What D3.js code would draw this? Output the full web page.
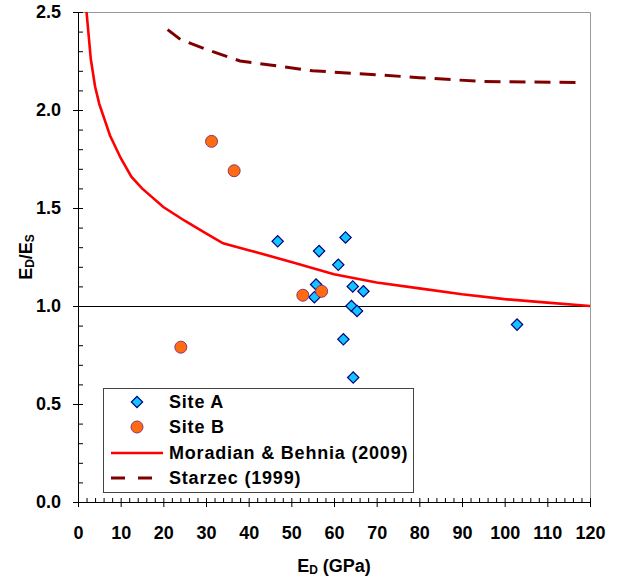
<!DOCTYPE html>
<html>
<head>
<meta charset="utf-8">
<script src="https://cdn.jsdelivr.net/npm/d3@7"></script>
<style>
  body { margin: 0; background: #fff; }
  text { font-family: "Liberation Sans", Arial, sans-serif; font-weight: bold; fill: #000; }
</style>
</head>
<body>
<div id="chart"></div>
<script>
// Site A (diamonds)
const siteA_ED = [46.8, 62.7, 56.5, 61.0, 55.8, 64.4, 66.9, 55.4, 64.1, 65.4, 62.2, 64.5, 102.9];
const siteA_ratio = [1.33, 1.35, 1.28, 1.21, 1.11, 1.10, 1.075, 1.045, 1.00, 0.975, 0.83, 0.635, 0.905];

// Site B (circles)
const siteB_ED = [31.3, 36.6, 52.7, 57.1, 24.1];
const siteB_ratio = [1.84, 1.69, 1.055, 1.075, 0.79];

// Moradian & Behnia (2009)
const mbED = [2, 3, 4, 5, 7.5, 10, 12.5, 15, 20, 25, 30, 34, 40, 50, 60, 70, 80, 90, 100, 110, 120];
const mbRatio = [2.5, 2.26, 2.12, 2.03, 1.87, 1.755, 1.66, 1.60, 1.505, 1.435, 1.37, 1.32, 1.285, 1.225, 1.162, 1.12, 1.09, 1.06, 1.035, 1.017, 1.0];

// Starzec (1999)
const stED = [21, 24, 30, 38, 45, 55, 70, 80, 95, 118];
const stRatio = [2.41, 2.36, 2.31, 2.25, 2.23, 2.20, 2.18, 2.165, 2.145, 2.14];

const xTicks = [0, 10, 20, 30, 40, 50, 60, 70, 80, 90, 100, 110, 120];
const yTicks = [0.0, 0.5, 1.0, 1.5, 2.0, 2.5];
const legendLabels = ["Site A", "Site B", "Moradian & Behnia (2009)", "Starzec (1999)"];

const width = 617, height = 579;
const margin = {top: 12, right: 27, bottom: 77, left: 78};
const w = width - margin.left - margin.right;
const h = height - margin.top - margin.bottom;

const svg = d3.select("#chart").append("svg")
    .attr("width", width)
    .attr("height", height);

const g = svg.append("g")
    .attr("transform", "translate(" + margin.left + "," + margin.top + ")");

const x = d3.scaleLinear().domain([0, 120]).range([0, w]);
const y = d3.scaleLinear().domain([0, 2.5]).range([h, 0]);

// plot frame (top and right, gray)
g.append("path")
    .attr("d", "M0.5,0.5H" + (w + 0.5) + "V" + h)
    .attr("fill", "none")
    .attr("stroke", "#999")
    .attr("stroke-width", 1);

// reference line at 1.0
g.append("line")
    .attr("x1", 0).attr("x2", w)
    .attr("y1", y(1) + 0.5).attr("y2", y(1) + 0.5)
    .attr("stroke", "#000")
    .attr("stroke-width", 1);

// y axis: majors outside with labels, minors inside
g.append("g")
    .attr("class", "axis")
    .call(d3.axisLeft(y).tickValues(yTicks).tickFormat(d3.format(".1f")).tickSize(5).tickSizeOuter(0).tickPadding(12));
g.append("g")
    .attr("class", "axis minor")
    .call(d3.axisRight(y).tickValues(d3.range(0, 2.51, 0.1)).tickFormat("").tickSize(5).tickSizeOuter(0));

// x axis
g.append("g")
    .attr("class", "axis")
    .attr("transform", "translate(0," + h + ")")
    .call(d3.axisBottom(x).tickValues(xTicks).tickSize(5).tickSizeOuter(0).tickPadding(19));
g.append("g")
    .attr("class", "axis minor")
    .attr("transform", "translate(0," + h + ")")
    .call(d3.axisTop(x).tickValues(d3.range(0, 121, 2)).tickFormat("").tickSize(4).tickSizeOuter(0));

g.selectAll(".axis path, .axis line").attr("stroke", "#000").attr("stroke-width", 1);
g.selectAll(".axis text").style("font-size", "18px").style("font-family", "'Liberation Sans', Arial, sans-serif").style("font-weight", "bold");

// curves
const line = d3.line().x(d => x(d[0])).y(d => y(d[1]));

g.append("path")
    .datum(d3.zip(mbED, mbRatio))
    .attr("d", line)
    .attr("fill", "none")
    .attr("stroke", "#ff0000")
    .attr("stroke-width", 2.6);

g.append("path")
    .datum(d3.zip(stED, stRatio))
    .attr("d", line)
    .attr("fill", "none")
    .attr("stroke", "#800000")
    .attr("stroke-width", 3)
    .attr("stroke-dasharray", "16,9");

// points
const diamond = d3.symbol().type(d3.symbolSquare).size(64);

g.selectAll(".siteA")
    .data(d3.zip(siteA_ED, siteA_ratio))
    .enter().append("path")
    .attr("class", "siteA")
    .attr("d", diamond)
    .attr("transform", d => "translate(" + x(d[0]) + "," + y(d[1]) + ") rotate(45)")
    .attr("fill", "#14c4ff")
    .attr("stroke", "#000080")
    .attr("stroke-width", 1.2);

g.selectAll(".siteB")
    .data(d3.zip(siteB_ED, siteB_ratio))
    .enter().append("circle")
    .attr("class", "siteB")
    .attr("cx", d => x(d[0]))
    .attr("cy", d => y(d[1]))
    .attr("r", 6)
    .attr("fill", "#ff6a13")
    .attr("stroke", "#8a3a6a")
    .attr("stroke-width", 1);

// legend
const lg = svg.append("g").attr("transform", "translate(103,388)");
lg.append("rect")
    .attr("x", 0.5).attr("y", 0.5)
    .attr("width", 310).attr("height", 104)
    .attr("fill", "#fff")
    .attr("stroke", "#444")
    .attr("stroke-width", 1);

const rowY = [14, 39, 65, 90];
lg.append("path")
    .attr("d", diamond)
    .attr("transform", "translate(34," + rowY[0] + ") rotate(45)")
    .attr("fill", "#14c4ff").attr("stroke", "#000080").attr("stroke-width", 1.2);
lg.append("circle")
    .attr("cx", 34).attr("cy", rowY[1]).attr("r", 6)
    .attr("fill", "#ff6a13").attr("stroke", "#8a3a6a");
lg.append("line")
    .attr("x1", 8).attr("x2", 60).attr("y1", rowY[2]).attr("y2", rowY[2])
    .attr("stroke", "#ff0000").attr("stroke-width", 2.6);
lg.append("line")
    .attr("x1", 8).attr("x2", 60).attr("y1", rowY[3]).attr("y2", rowY[3])
    .attr("stroke", "#800000").attr("stroke-width", 3).attr("stroke-dasharray", "14,13");

lg.selectAll(".lt")
    .data(legendLabels)
    .enter().append("text")
    .attr("class", "lt")
    .attr("x", 66)
    .attr("y", (d, i) => rowY[i])
    .attr("dy", "0.35em")
    .style("font-size", "18px")
    .style("letter-spacing", "0.8px")
    .text(d => d);

// axis titles
const xt = svg.append("text")
    .attr("x", margin.left + w / 2)
    .attr("y", 572)
    .attr("text-anchor", "middle")
    .style("font-size", "18px");
xt.append("tspan").text("E");
xt.append("tspan").attr("dy", 2).style("font-size", "12px").text("D");
xt.append("tspan").attr("dy", -2).text(" (GPa)");

const yt = svg.append("text")
    .attr("transform", "translate(32," + (margin.top + h / 2) + ") rotate(-90)")
    .attr("text-anchor", "middle")
    .style("font-size", "18px");
yt.append("tspan").text("E");
yt.append("tspan").attr("dy", 2).style("font-size", "12px").text("D");
yt.append("tspan").attr("dy", -2).text("/E");
yt.append("tspan").attr("dy", 2).style("font-size", "12px").text("S");
</script>
</body>
</html>
